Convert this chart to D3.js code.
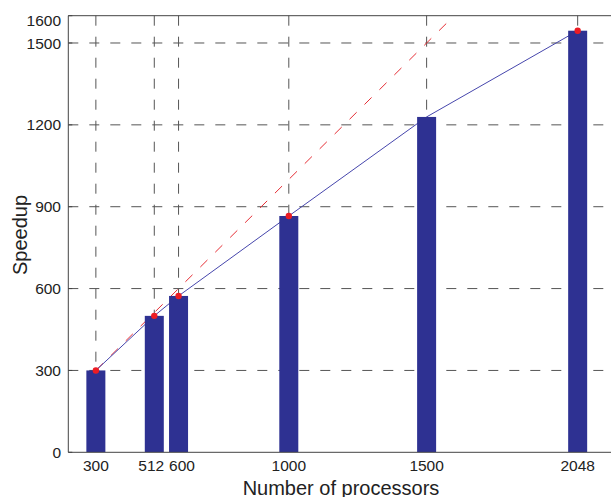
<!DOCTYPE html>
<html>
<head>
<meta charset="utf-8">
<script src="https://cdn.jsdelivr.net/npm/d3@7"></script>
<style>
  body { margin: 0; background: #fff; }
  svg { display: block; font-family: "Liberation Sans", Arial, sans-serif; }
</style>
</head>
<body>
<div id="chart"></div>
<script>
// processor counts and measured speedup
var processors = [300, 512, 600, 1000, 1500, 2048];
var speedup = [300, 500, 573, 866, 1229, 1545];

// red markers are only on these runs (none on 1500)
var marked = [300, 512, 600, 1000, 2048];

// ideal (linear) speedup line end points
var ideal_x = [300, 1600];

var x_ticks = [300, 512, 600, 1000, 1500, 2048];
var y_ticks = [0, 300, 600, 900, 1200, 1500, 1600];
var y_grid = [300, 600, 900, 1200, 1500];

var W = 611, H = 497;
var plotLeft = 68.3, plotTop = 15.7, plotBottom = 452.3;

var svg = d3.select("#chart").append("svg")
    .attr("width", W)
    .attr("height", H);

// x is linear, axes run 200..2200 and 0..1600
var x = d3.scaleLinear().domain([200, 2200]).range([plotLeft, plotLeft + 2000 * 0.27563]);
var y = d3.scaleLinear().domain([0, 1600]).range([plotBottom, plotTop]);
var plotRight = x(2200);

var data = processors.map(function (p, i) { return { p: p, s: speedup[i] }; });

svg.append("clipPath").attr("id", "plot")
    .append("rect")
    .attr("x", plotLeft).attr("y", plotTop)
    .attr("width", plotRight - plotLeft).attr("height", plotBottom - plotTop);

var grid = svg.append("g")
    .attr("stroke", "#555")
    .attr("stroke-width", 1)
    .attr("stroke-dasharray", "10,11");

// horizontal grid
grid.selectAll("line.h").data(y_grid).enter().append("line")
    .attr("x1", plotLeft).attr("x2", plotRight)
    .attr("y1", function (d) { return y(d); })
    .attr("y2", function (d) { return y(d); });

// vertical grid
grid.selectAll("line.v").data(x_ticks).enter().append("line")
    .attr("x1", function (d) { return x(d); })
    .attr("x2", function (d) { return x(d); })
    .attr("y1", plotTop).attr("y2", plotBottom);

var plot = svg.append("g").attr("clip-path", "url(#plot)");

// ideal speedup, red dashed
plot.append("line")
    .attr("x1", x(ideal_x[0])).attr("y1", y(ideal_x[0]))
    .attr("x2", x(ideal_x[1])).attr("y2", y(ideal_x[1]))
    .attr("stroke", "#e52d34")
    .attr("stroke-width", 1)
    .attr("stroke-dasharray", "10,11");

// measured speedup line
plot.append("path")
    .datum(data)
    .attr("fill", "none")
    .attr("stroke", "#4646ac")
    .attr("stroke-width", 1)
    .attr("d", d3.line()
        .x(function (d) { return x(d.p); })
        .y(function (d) { return y(d.s); }));

// bars
var bar_w = 19;
plot.selectAll("rect.bar").data(data).enter().append("rect")
    .attr("x", function (d) { return x(d.p) - bar_w / 2; })
    .attr("y", function (d) { return y(d.s); })
    .attr("width", bar_w)
    .attr("height", function (d) { return plotBottom - y(d.s); })
    .attr("fill", "#2e3192");

// red markers at bar tops
svg.selectAll("circle.dot")
    .data(data.filter(function (d) { return marked.indexOf(d.p) >= 0; }))
    .enter().append("circle")
    .attr("cx", function (d) { return x(d.p); })
    .attr("cy", function (d) { return y(d.s); })
    .attr("r", 3.2)
    .attr("fill", "#ec1c24");

// axis frame
var frame = svg.append("g").attr("stroke", "#444").attr("stroke-width", 1).attr("fill", "none");
frame.append("line").attr("x1", plotLeft).attr("x2", plotLeft).attr("y1", plotTop).attr("y2", plotBottom);
frame.append("line").attr("x1", plotLeft).attr("x2", W).attr("y1", plotTop).attr("y2", plotTop);
frame.append("line").attr("x1", plotLeft).attr("x2", W).attr("y1", plotBottom).attr("y2", plotBottom);

// y tick marks (inside)
frame.selectAll("line.yt").data(y_ticks).enter().append("line")
    .attr("x1", plotLeft).attr("x2", plotLeft + 4)
    .attr("y1", function (d) { return y(d); })
    .attr("y2", function (d) { return y(d); });

// tick labels
svg.selectAll("text.yl").data(y_ticks).enter().append("text")
    .attr("x", 61)
    .attr("y", function (d) { return Math.max(y(d), plotTop + 4.5); })
    .attr("dy", "0.36em")
    .attr("text-anchor", "end")
    .attr("font-size", 15.5)
    .attr("fill", "#222")
    .text(function (d) { return d; });

// 512 and 600 sit close together, spread their labels a little
var label_nudge = { 512: -3, 600: 3.5 };
svg.selectAll("text.xl").data(x_ticks).enter().append("text")
    .attr("x", function (d) { return x(d) + (label_nudge[d] || 0); })
    .attr("y", 470.5)
    .attr("text-anchor", "middle")
    .attr("font-size", 15.5)
    .attr("fill", "#222")
    .text(function (d) { return d; });

// axis titles
svg.append("text")
    .attr("x", 341).attr("y", 495)
    .attr("text-anchor", "middle")
    .attr("font-size", 20)
    .attr("fill", "#222")
    .text("Number of processors");

svg.append("text")
    .attr("transform", "translate(26.5,235) rotate(-90)")
    .attr("text-anchor", "middle")
    .attr("font-size", 20)
    .attr("fill", "#222")
    .text("Speedup");
</script>
</body>
</html>
